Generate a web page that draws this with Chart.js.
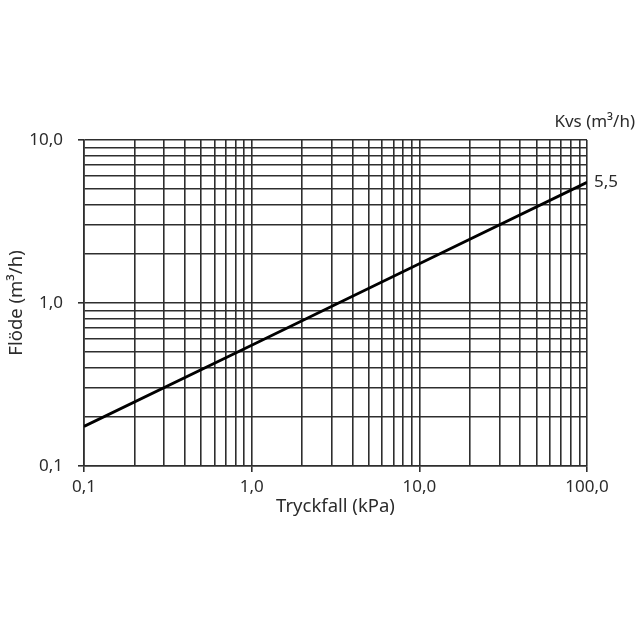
<!DOCTYPE html>
<html>
<head>
<meta charset="utf-8">
<script src="https://cdn.jsdelivr.net/npm/chart.js@4"></script>
<style>
  body { margin: 0; background: #fff; }
</style>
</head>
<body>
<canvas id="myChart" width="640" height="640"></canvas>
<script>
// pressure drop (kPa) vs flow (m3/h), Kvs 5.5
const pressureDrop = [0.1, 1, 10, 100];
const flow = [0.175, 0.55, 1.74, 5.5];
const kvsLabel = '5,5';

const xDecades = [0.1, 1, 10, 100];
const xTickLabels = ['0,1', '1,0', '10,0', '100,0'];
const yDecades = [0.1, 1, 10];
const yTickLabels = ['0,1', '1,0', '10,0'];

const tickFont = { family: 'Noto Sans', size: 17 };
const titleFont = { family: 'Noto Sans', size: 18.5 };
const textColor = '#2b2b2b';
const lineColor = '#2e2e2e';

// gridlines at 1..9 of each decade, labels only on the decades
function gridTicks(decades) {
    let ticks = [];
    for (let i = 0; i < decades.length; i++) {
        ticks.push({ value: decades[i], major: true });
        if (i < decades.length - 1) {
            for (let k = 2; k <= 9; k++) {
                ticks.push({ value: +(decades[i] * k).toPrecision(3), major: false });
            }
        }
    }
    return ticks;
}

function labelFor(decades, labels) {
    return function (value) {
        const i = decades.findIndex(d => Math.abs(d - value) < d * 1e-6);
        return i >= 0 ? labels[i] : '';
    };
}

const gridOpts = {
    color: lineColor,
    lineWidth: 1.6,
    tickLength: 6,
    tickColor: (ctx) => (ctx.tick && ctx.tick.major ? lineColor : 'rgba(0,0,0,0)')
};

// Kvs labels next to the line
const kvsPlugin = {
    id: 'kvs',
    afterDraw(chart) {
        const c = chart.ctx;
        const area = chart.chartArea;
        const last = chart.getDatasetMeta(0).data[flow.length - 1];
        c.save();
        c.fillStyle = textColor;
        c.font = '17px "Noto Sans"';
        c.textBaseline = 'middle';
        c.textAlign = 'left';
        c.fillText(kvsLabel, last.x + 7, last.y);
        c.textAlign = 'right';
        c.fillText('Kvs (m³/h)', 635, area.top - 18);
        c.restore();
    }
};

const ctx = document.getElementById('myChart').getContext('2d');

const myChart = new Chart(ctx, {
    type: 'line',
    data: {
        datasets: [{
            data: pressureDrop.map((x, i) => ({ x: x, y: flow[i] })),
            borderColor: '#000',
            borderWidth: 2.8,
            pointRadius: 0,
            tension: 0
        }]
    },
    options: {
        responsive: false,
        animation: false,
        layout: { padding: { left: 0, top: 140, right: 53, bottom: 122 } },
        plugins: { legend: { display: false }, tooltip: { enabled: false } },
        scales: {
            x: {
                type: 'logarithmic',
                min: 0.1,
                max: 100,
                afterBuildTicks: (scale) => { scale.ticks = gridTicks(xDecades); },
                afterFit: (scale) => { scale.height = 52; },
                grid: gridOpts,
                border: { color: lineColor, width: 1.6 },
                ticks: {
                    autoSkip: false,
                    maxRotation: 0,
                    padding: 5,
                    color: textColor,
                    font: tickFont,
                    callback: labelFor(xDecades, xTickLabels)
                },
                title: {
                    display: true,
                    text: 'Tryckfall (kPa)',
                    color: textColor,
                    font: titleFont,
                    padding: 0
                }
            },
            y: {
                type: 'logarithmic',
                min: 0.1,
                max: 10,
                afterBuildTicks: (scale) => { scale.ticks = gridTicks(yDecades); },
                afterFit: (scale) => { scale.width = 84; },
                grid: gridOpts,
                border: { color: lineColor, width: 1.6 },
                ticks: {
                    autoSkip: false,
                    padding: 15,
                    color: textColor,
                    font: tickFont,
                    callback: labelFor(yDecades, yTickLabels)
                },
                title: {
                    display: true,
                    text: 'Flöde (m³/h)',
                    color: textColor,
                    font: titleFont,
                    padding: { top: 6, bottom: 0 }
                }
            }
        }
    },
    plugins: [kvsPlugin]
});
</script>
</body>
</html>
